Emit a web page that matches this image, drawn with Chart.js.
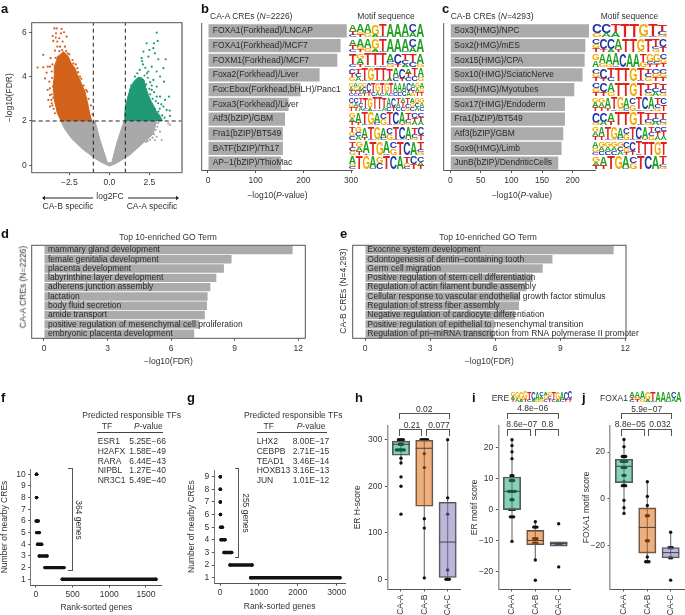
<!DOCTYPE html>
<html lang="en">
<head>
    <meta charset="UTF-8">
    <title>CA-A and CA-B CRE analysis</title>
    <script src="https://cdn.jsdelivr.net/npm/chart.js"></script>
    <style>
        html, body { margin: 0; padding: 0; background: #fff; }
        #page { position: relative; width: 685px; height: 615px; overflow: hidden; font-family: "Liberation Sans", Arial, sans-serif; font-size: 8.5px; color: #333; }
        #page canvas { position: absolute; left: 0; top: 0; }
        .note { position: absolute; white-space: nowrap; line-height: 1; }
        .letter { font-weight: bold; font-size: 13px; color: #111; }
        .brk { position: absolute; box-sizing: border-box; border: 1px solid #555; }
        .rule { position: absolute; height: 1px; background: #444; }
    </style>
</head>
<body>
<div id="page"></div>
<script>
    // panel a: outlines of the dense clouds plus the stray points
    const greyOutX = [-3.02, -2.85, -2.67, -2.35, -2.04, -1.65, -1.31, -0.95, -0.58, -0.25, 0, 0.35, 0.8, 1.29, 1.7, 2.13, 2.5, 2.75, 2.96, 0.92, 0.46, 0.15, -0.12, -0.58, -0.9];
    const greyOutY = [2, 1.72, 1.52, 1.2, 0.99, 0.72, 0.54, 0.34, 0.17, 0.05, -0.03, 0.06, 0.25, 0.47, 0.74, 1.02, 1.24, 1.44, 2, 2, 1, 0.12, 0.12, 1.14, 2];
    const orangeOutX = [-3.02, -3.15, -3.25, -3.33, -3.44, -3.47, -3.5, -3.42, -3.44, -3.3, -3.25, -3.05, -2.88, -2.72, -2.56, -2.4, -2.15, -2.0, -1.88, -1.68, -1.52, -1.42, -1.31, -1.22, -1.1];
    const orangeOutY = [2, 2.2, 2.35, 2.62, 2.95, 3.3, 3.7, 4.1, 4.45, 4.72, 4.9, 5.0, 5.13, 5.02, 4.9, 4.62, 4.38, 4.1, 3.92, 3.58, 3.32, 3.0, 2.65, 2.32, 2];
    const greenOutX = [0.95, 0.97, 1, 1.08, 1.19, 1.3, 1.46, 1.62, 1.81, 2.0, 2.17, 2.28, 2.44, 2.6, 2.79, 2.95, 3.13, 3.33];
    const greenOutY = [2, 2.3, 2.57, 2.85, 3.17, 3.45, 3.7, 3.85, 3.97, 3.95, 3.85, 3.5, 3.17, 2.9, 2.65, 2.4, 2.27, 2];
    const orangeDotX = [-3.44, -3.29, -2.98, -3.33, -3.02, -2.83, -3.54, -3.35, -3.13, -2.67, -3.5, -3.25, -2.92, -3.25, -3.08, -2.77, -3.4, -4.13, -3.67, -4.48, -4.13, -3.85, -3.71, -3.92, -3.6, -4.02, -3.75, -3.71, -3.85, -3.71, -3.81, -3.71, -3.6, -2.0, -1.83, -1.38, -3.55, -3.58, -3.52, -3.6, -3.5, -3.56, -3.62, -3.48, -3.4, -3.36, -2.95, -2.7, -2.5, -2.3, -2.1, -2.25, -1.95, -1.75, -1.6, -1.45, -1.3, -1.15, -1.05, -3.12, -2.6];
    const orangeDotY = [6.17, 6.17, 6.15, 5.95, 5.95, 6.0, 5.83, 5.76, 5.73, 5.8, 5.61, 5.58, 5.58, 5.35, 5.35, 5.35, 5.17, 4.98, 4.83, 4.41, 4.42, 4.45, 4.45, 4.18, 4.23, 3.92, 3.77, 3.47, 3.4, 3.17, 2.95, 2.65, 2.8, 4.38, 4.0, 3.32, 4.55, 3.95, 3.55, 3.2, 3.05, 2.7, 2.95, 2.55, 2.35, 4.85, 5.2, 5.15, 5.0, 4.75, 4.55, 4.6, 4.2, 3.9, 3.6, 3.4, 3.0, 2.7, 2.3, 5.15, 5.05];
    const greenDotX = [2.96, 2.33, 2.79, 3.02, 2.13, 2.5, 2.75, 2.02, 2.44, 2.85, 3.52, 3.06, 3.38, 2.65, 2.96, 2.44, 3.17, 2.75, 3.42, 2.96, 3.17, 3.73, 2.65, 1.29, 3.48, 3.77, 3.79, 3.58, 3.38, 2.96, 3.06, 1.19, 2.1, 2.25, 2.35, 2.2, 2.4, 2.55, 2.3, 2.5, 2.65, 2.8, 2.55, 2.7, 2.9, 3.05, 2.85, 3.0, 3.15, 3.3, 3.45, 3.25, 2.6, 2.75, 1.75, 1.9, 2.05, 1.6, 1.35, 1.05];
    const greenDotY = [5.98, 5.5, 5.5, 5.61, 5.13, 5.2, 5.28, 4.83, 4.9, 5.05, 4.78, 4.78, 4.38, 4.45, 4.23, 4.23, 4.0, 3.85, 3.77, 3.55, 3.1, 3.1, 3.4, 3.4, 2.95, 2.47, 2.23, 2.5, 2.65, 3.1, 2.42, 3.05, 4.55, 4.4, 4.15, 4.05, 3.95, 3.75, 3.65, 3.45, 3.6, 3.3, 3.2, 3.0, 2.9, 2.8, 2.55, 2.3, 2.55, 2.25, 2.15, 2.75, 2.8, 2.45, 4.15, 4.3, 4.7, 4.0, 3.6, 2.75];
    const greyDotX = [3.79, 3.69, 3.27, 2.96, 3.17, 2.85, 3.0, 2.9, 2.8, 2.7, 2.55, 2.4, 3.05, 2.65, 2.3];
    const greyDotY = [1.82, 1.89, 1.14, 1.29, 1.52, 1.14, 1.74, 1.6, 1.4, 1.25, 1.15, 1.1, 1.9, 1.6, 1.05];

    // tick positions
    const aTicksX = [-2.5, 0, 2.5];
    const aTicksY = [0, 2, 4, 6];
    const bTicks = [0, 100, 200, 300];
    const cTicks = [0, 50, 100, 150, 200];
    const goTicks = [0, 3, 6, 9, 12];
    const fTicksX = [0, 500, 1000, 1500];
    const gTicksX = [0, 1000, 2000, 3000];
    const hTicksY = [0, 100, 200, 300];
    const iTicksY = [-20, -10, 0, 10, 20];
    const jTicksY = [-20, 0, 20];

    // panels b and c: motif enrichment
    const bLabels = ['FOXA1(Forkhead)/LNCAP', 'FOXA1(Forkhead)/MCF7', 'FOXM1(Forkhead)/MCF7', 'Foxa2(Forkhead)/Liver', 'Fox:Ebox(Forkhead,bHLH)/Panc1', 'Foxa3(Forkhead)/Liver', 'Atf3(bZIP)/GBM', 'Fra1(bZIP)/BT549', 'BATF(bZIP)/Th17', 'AP\u22121(bZIP)/ThioMac'];
    const bValues = [291, 278, 271, 234, 194, 169, 161.5, 157, 157, 153];
    const cLabels = ['Sox3(HMG)/NPC', 'Sox2(HMG)/mES', 'Sox15(HMG)/CPA', 'Sox10(HMG)/SciaticNerve', 'Sox6(HMG)/Myotubes', 'Sox17(HMG)/Endoderm', 'Fra1(bZIP)/BT549', 'Atf3(bZIP)/GBM', 'Sox9(HMG)/Limb', 'JunB(bZIP)/DendriticCells'];
    const cValues = [226.8, 220.8, 219.7, 216.4, 202.8, 187.5, 187.5, 184.8, 182, 176.6];

    // sequence logos: one string per column, letters top to bottom with height in tenths
    const foxa1Logo = ['A5T3C2', 'A6G2T2', 'A7G3', 'G8A2', 'T9C1', 'A10', 'A10', 'A9C1', 'C6A4', 'A10'];
    const bLogos = [
        foxa1Logo,
        foxa1Logo,
        ['T8C2', 'G4A4T2', 'T9C1', 'T9A1', 'T9C1', 'A6C2G2', 'C8T2', 'T5C3A2', 'T6C4', 'A8G2'],
        ['C4T3G3', 'T4C3A3', 'T9C1', 'G9A1', 'T9C1', 'T9C1', 'T8A2', 'A7C3', 'C8T2', 'A4T3C3', 'T6C4', 'A7G3'],
        ['G3A3T2C2', 'A3G3T2C2', 'G3A3T2C2', 'G3C3A2T2', 'C7T3', 'T7C3', 'G7A3', 'T8C2', 'G7A3', 'T8C2', 'A7C3', 'A7C3', 'A6C4', 'C6A4', 'A3C3T2G2', 'G4A3T3', 'A4G3T3'],
        ['C4G3T3', 'C4A3T3', 'T4C3A3', 'T8C2', 'G8A2', 'T9C1', 'T9C1', 'T7A3', 'A7C3', 'C7T3', 'T4A3C3', 'A3T4C3', 'T5C3G2', 'A4G3C3', 'G4C3A3', 'G4A3C3'],
        ['G4A3T3', 'A8T2', 'T9C1', 'G9A1', 'A8C2', 'C5G5', 'T9C1', 'C9A1', 'A9T1', 'T5C3G2', 'C4T3A3', 'C3T4A3'],
        ['T4G3C3', 'G4C3A3', 'A8T2', 'T9C1', 'G9A1', 'A8C2', 'C5G5', 'T9C1', 'C9A1', 'A9T1', 'T5C3G2', 'C6T4'],
        ['T4C3G3', 'G4A3T3', 'A9T1', 'T10', 'G10', 'A9C1', 'C5G5', 'T10', 'C10', 'A10', 'T6C2G2'],
        ['A6G2C2', 'T10', 'G10', 'A9C1', 'G5C5', 'T10', 'C10', 'A10', 'T5G3C2', 'C6T4', 'C4A3T3']
    ];
    const cLogos = [
        ['C7G3', 'C7A3', 'T6A4', 'T10', 'T10', 'G9A1', 'T9C1', 'T5C3G2'],
        ['C4G3T3', 'C8T2', 'C8A2', 'A8T2', 'T10', 'T10', 'G9A1', 'T10', 'T6C2G2', 'C6T4'],
        ['G5A5', 'A7G3', 'A8G2', 'A9C1', 'C10', 'A10', 'A10', 'T6G4', 'G6C2T2', 'G6C2T2', 'C4G3T3'],
        ['C4G3T3', 'C8T2', 'T7C3', 'T10', 'T10', 'G10', 'T9C1', 'T4C3G3', 'C4G3T3', 'C4G3T3'],
        ['C4G3T3', 'C7T3', 'A7G3', 'T10', 'T10', 'G10', 'T10', 'T5C3G2', 'T4C3A3', 'T5C3G2'],
        ['G3A4T3', 'G4A3T3', 'A8T2', 'T9C1', 'G9A1', 'A8C2', 'C5G5', 'T9C1', 'C9A1', 'A9T1', 'T5C3G2', 'C5T5'],
        ['C8G2', 'C7A3', 'A7T3', 'T10', 'T10', 'G10', 'T9C1', 'T5C3G2', 'T4C3A3', 'T5C3G2'],
        ['G4A3T3', 'A7T3', 'T9C1', 'G9A1', 'A8C2', 'C5G5', 'T9C1', 'C9A1', 'A9T1', 'T4C3G3', 'C4T3A3', 'C3T4A3'],
        ['A5G3C2', 'G4A3C3', 'G4A3C3', 'G4A3C3', 'G4C3A3', 'C5G3T2', 'C7T3', 'T9C1', 'T10', 'T10', 'G10', 'T10'],
        ['G4A3T3', 'A7T3', 'T10', 'G10', 'A9C1', 'C5G5', 'T10', 'C10', 'A10', 'T6C2G2']
    ];
    const ereLogo = ['G4A3T3', 'G6A4', 'G8A2', 'G7T3', 'T8C2', 'C8A2', 'A8G2', 'C4A3G3', 'A3G4C3', 'G4C3T3', 'T8C2', 'G8A2', 'A8C2', 'C8T2', 'C7T3'];

    // panels d and e: GO terms
    const dLabels = ['mammary gland development', 'female genitalia development', 'placenta development', 'labyrinthine layer development', 'adherens junction assembly', 'lactation', 'body fluid secretion', 'amide transport', 'positive regulation of mesenchymal cell proliferation', 'embryonic placenta development'];
    const dValues = [11.73, 8.85, 8.49, 8.13, 7.85, 7.72, 7.69, 7.59, 7.33, 7.09];
    const eLabels = ['Exocrine system development', 'Odontogenesis of dentin\u2013containing tooth', 'Germ cell migration', 'Positive regulation of stem cell differentiation', 'Regulation of actin filament bundle assembly', 'Cellular response to vascular endothelial growth factor stimulus', 'Regulation of stress fiber assembly', 'Negative regulation of cardiocyte differentiation', 'Positive regulation of epithelial to mesenchymal transition', 'Regulation of pri\u2013miRNA transcription from RNA polymerase II promoter'];
    const eValues = [11.46, 8.64, 8.19, 7.73, 7.44, 7.15, 7.10, 6.92, 5.97, 5.93];

    // panels f and g: rank runs per number of nearby CREs
    const fLevels = [10, 8, 6, 5, 4, 3, 2, 1];
    const fRankFrom = [8, 8, 3, 10, 23, 45, 123, 359];
    const fRankTo = [8, 8, 30, 45, 77, 150, 382, 1636];
    const gLevels = [9, 8, 7, 6, 5, 4, 3, 2, 1];
    const gRankFrom = [8, 8, 8, 10, 17, 26, 103, 257, 788];
    const gRankTo = [8, 8, 8, 10, 60, 129, 300, 823, 3085];
    const fTF = ['ESR1', 'H2AFX', 'RARA', 'NIPBL', 'NR3C1'];
    const fP = ['5.25E\u221266', '1.58E\u221249', '6.44E\u221243', '1.27E\u221240', '5.49E\u221240'];
    const gTF = ['LHX2', 'CEBPB', 'TEAD1', 'HOXB13', 'JUN'];
    const gP = ['8.00E\u221217', '2.71E\u221215', '3.46E\u221214', '3.16E\u221213', '1.01E\u221212'];

    // panels h, i, j: boxes per group
    const groups = ['CA-A', 'CA-B', 'CA-C'];
    const hQ1 = [266.5, 157, 4], hMed = [290, 281.5, 80], hQ3 = [297, 298.7, 165.5], hLow = [250, 2, 0], hHigh = [300, 300, 300];
    const hPtX = [0.89, 0.96, 1.03, 1.1, 0.93, 1, 1.07, 0.8, 0.87, 0.94, 1, 1.07, 1.14, 1, 1, 1, 1, 1, 1.86, 1.93, 2, 2.07, 2.14, 2, 2, 2, 2, 2, 3, 3, 3, 3, 2.93, 3, 3.07];
    const hPtY = [300, 300, 300, 300, 290, 290, 290, 278, 278, 278, 278, 278, 278, 260, 250, 220, 200, 140, 300, 300, 300, 300, 300, 270, 240, 130, 110, 3, 300, 175, 140, 20, 0, 0, 0];
    const iQ1 = [-0.1, -11.4, -11.8], iMed = [5.8, -10, -11], iQ3 = [10.4, -6.75, -10.4], iLow = [-10.3, -16.3, -11.8], iHigh = [22.4, -4, -10.4];
    const iPtX = [1, 1, 1, 1, 0.96, 1.04, 0.93, 1, 1.07, 0.86, 0.93, 1, 1.07, 1.14, 0.96, 1.04, 0.89, 0.96, 1.04, 1.11, 0.93, 1, 1.07, 1, 2, 1.93, 2, 2.07, 1.93, 2, 2.07, 1.93, 2, 2.07, 2, 2, 3, 2.89, 2.96, 3.04, 3.11, 3];
    const iPtY = [22.4, 20.5, 18.5, 16.3, 10.8, 10.8, 9.3, 9.3, 9.3, 5.8, 5.8, 5.8, 5.8, 5.8, 3.1, 3.1, 0, 0, 0, 0, -2.4, -2.4, -2.4, -10.3, -4, -5.7, -5.7, -5.7, -9.4, -9.4, -9.4, -10.9, -10.9, -10.9, -16.3, -22.8, -4.6, -11, -11, -11, -11, -18.5];
    const jQ1 = [6.9, -23.3, -25.4], jMed = [13.9, -12.3, -23.1], jQ3 = [16.9, -3.9, -20.9], jLow = [-6.3, -27, -25.4], jHigh = [25.4, 7.3, -14.4];
    const jPtX = [1, 1, 0.93, 1, 1.07, 0.89, 0.96, 1.04, 1.11, 0.93, 1, 1.07, 0.96, 1.04, 1, 0.93, 1, 1.07, 1, 1, 1, 2, 2, 2, 1.96, 2.04, 1.96, 2.04, 2, 1.93, 2, 2.07, 3, 2.93, 3, 3.07, 2.96, 3.04, 3];
    const jPtY = [25.4, 22.3, 18.1, 18.1, 18.1, 16, 16, 16, 16, 13.4, 13.4, 13.4, 10, 10, 7.3, 5.6, 5.6, 5.6, -0.7, -3.9, -6.3, 7.3, 1, -2.9, -7.3, -7.3, -18, -18, -25, -27, -27, -27, -14.4, -21, -21, -21, -25.3, -25.3, -34.9];

    const boxFill = ['rgba(27,158,119,0.5)', 'rgba(217,95,2,0.5)', 'rgba(117,112,179,0.5)'];
    const logoColors = { A: '#21A121', C: '#2035A8', G: '#F5A800', T: '#E0201A' };
    const page = document.getElementById('page');
    const FS = 8.5;

    Chart.defaults.animation = false;
    Chart.defaults.font.family = '"Liberation Sans", Arial, sans-serif';
    Chart.defaults.font.size = FS;
    Chart.defaults.color = '#333';
    Chart.defaults.plugins.legend.display = false;
    Chart.defaults.plugins.tooltip.enabled = false;

    // every panel is its own page-sized canvas, plot box given in page pixels
    function makeChart(box, config, extraPlugins) {
        const canvas = document.createElement('canvas');
        canvas.width = 685;
        canvas.height = 615;
        page.appendChild(canvas);
        const lh = FS * 1.2;
        const padLeft = box.yTitleX ? box.yTitleX - lh / 2 : 0;
        const xBottom = box.xTitleY ? box.xTitleY + lh / 2 : 615;
        config.options = config.options || {};
        config.options.responsive = false;
        config.options.layout = {
            autoPadding: false,
            padding: { left: padLeft, top: box.t, right: 685 - box.r, bottom: 615 - xBottom }
        };
        config.options.scales.x.afterFit = s => { s.height = xBottom - box.b; };
        config.options.scales.y.afterFit = s => { s.width = box.l - padLeft; };
        config.plugins = extraPlugins || [];
        return new Chart(canvas, config);
    }

    function fixedTicks(values) {
        return s => { s.ticks = values.map(v => ({ value: v })); };
    }

    function axisTitle(text) {
        return { display: !!text, text: text, padding: 0, color: '#333' };
    }

    function minus(v) {
        return String(v).replace('-', '\u2212');
    }

    function note(html, x, y, align, cls) {
        const d = document.createElement('div');
        d.className = 'note ' + (cls || '');
        d.innerHTML = html;
        d.style.left = x + 'px';
        d.style.top = y + 'px';
        const tx = align === 'c' ? '-50%' : '0';
        d.style.transform = 'translate(' + tx + ',-50%)';
        page.appendChild(d);
    }

    function rotNote(text, x, y, deg) {
        const d = document.createElement('div');
        d.className = 'note';
        d.textContent = text;
        d.style.left = x + 'px';
        d.style.top = y + 'px';
        d.style.transform = 'translate(-50%,-50%) rotate(' + deg + 'deg)';
        page.appendChild(d);
    }

    function bracket(x0, x1, y, h, openSide) {
        const d = document.createElement('div');
        d.className = 'brk';
        d.style.left = x0 + 'px';
        d.style.top = y + 'px';
        d.style.width = (x1 - x0) + 'px';
        d.style.height = h + 'px';
        d.style[openSide] = 'none';
        page.appendChild(d);
    }

    // frame round the plot box
    const framePlugin = {
        id: 'frame',
        afterDraw(chart) {
            const a = chart.chartArea, ctx = chart.ctx;
            ctx.save();
            ctx.strokeStyle = '#555';
            ctx.lineWidth = 1;
            ctx.strokeRect(a.left, a.top, a.right - a.left, a.bottom - a.top);
            ctx.restore();
        }
    };

    function drawLogo(ctx, columns, x0, width, yBottom, height) {
        const colW = width / columns.length;
        ctx.save();
        columns.forEach((col, i) => {
            let y = yBottom - height;
            for (const [, ch, tenths] of col.matchAll(/([ACGT])(\d+)/g)) {
                const h = height * Number(tenths) / 10;
                ctx.font = 'bold 40px "Liberation Sans"';
                ctx.fillStyle = logoColors[ch];
                const m = ctx.measureText(ch);
                const mw = m.actualBoundingBoxRight + m.actualBoundingBoxLeft;
                const mh = m.actualBoundingBoxAscent + m.actualBoundingBoxDescent;
                ctx.save();
                ctx.translate(x0 + i * colW, y + h);
                ctx.scale(colW / mw, h / mh);
                ctx.fillText(ch, m.actualBoundingBoxLeft, -m.actualBoundingBoxDescent);
                ctx.restore();
                y += h;
            }
        });
        ctx.restore();
    }

    // logos beside the bars, rows follow the y scale
    function rowLogos(logos, x0, width) {
        return {
            id: 'rowLogos',
            afterDraw(chart) {
                logos.forEach((cols, i) => {
                    const yc = chart.scales.y.getPixelForValue(i);
                    drawLogo(chart.ctx, cols, x0, width, yc + 6.3, 12.6);
                });
            }
        };
    }

    function xyPoints(xs, ys) {
        return xs.map((x, i) => ({ x: x, y: ys[i] }));
    }

    function outline(xs, ys, color) {
        return { showLine: true, fill: 'shape', data: xyPoints(xs, ys), backgroundColor: color, borderColor: color, borderWidth: 1, pointRadius: 0 };
    }

    function dots(xs, ys, color) {
        return { data: xyPoints(xs, ys), backgroundColor: color, borderWidth: 0, pointRadius: 1.1 };
    }

    function dashed(points) {
        return { showLine: true, data: points, borderColor: '#222', borderWidth: 1, borderDash: [4, 3], pointRadius: 0 };
    }

    const xMinA = -4.85, xMaxA = 4.54, yMinA = -0.33, yMaxA = 6.43;
    makeChart({ l: 31.7, t: 22.7, r: 182, b: 172.7, yTitleX: 9.5 }, {
        type: 'scatter',
        data: {
            datasets: [
                dashed([{ x: -1, y: yMinA }, { x: -1, y: yMaxA }]),
                dashed([{ x: 1, y: yMinA }, { x: 1, y: yMaxA }]),
                dashed([{ x: xMinA, y: 2 }, { x: xMaxA, y: 2 }]),
                dots(orangeDotX, orangeDotY, '#D2611A'),
                dots(greenDotX, greenDotY, '#1F9A75'),
                dots(greyDotX, greyDotY, '#A9A9A9'),
                outline(orangeOutX, orangeOutY, '#D2611A'),
                outline(greenOutX, greenOutY, '#1F9A75'),
                outline(greyOutX, greyOutY, '#A9A9A9')
            ]
        },
        options: {
            scales: {
                x: {
                    min: xMinA, max: xMaxA,
                    afterBuildTicks: fixedTicks(aTicksX),
                    grid: { display: true, drawOnChartArea: false, tickLength: 2.5, tickColor: '#555' },
                    border: { display: false },
                    ticks: { padding: 2.5, maxRotation: 0, callback: v => minus(v.toFixed(1)) }
                },
                y: {
                    min: yMinA, max: yMaxA,
                    afterBuildTicks: fixedTicks(aTicksY),
                    grid: { display: true, drawOnChartArea: false, tickLength: 2.5, tickColor: '#555' },
                    border: { display: false },
                    title: axisTitle('\u2212log10(FDR)'),
                    ticks: { padding: 2.5 }
                }
            }
        }
    }, [framePlugin, {
        id: 'arrows',
        afterDraw(chart) {
            const ctx = chart.ctx, a = chart.chartArea;
            ctx.save();
            // right edge of the box is a lighter, wider line in the original
            ctx.strokeStyle = '#999';
            ctx.lineWidth = 1.6;
            ctx.beginPath();
            ctx.moveTo(a.right, a.top);
            ctx.lineTo(a.right, a.bottom);
            ctx.stroke();
            ctx.lineWidth = 1;
            ctx.strokeStyle = '#222';
            ctx.fillStyle = '#222';
            [[93, 45, 42], [128, 176, 179]].forEach(([x0, x1, tip]) => {
                ctx.beginPath();
                ctx.moveTo(x0, 198);
                ctx.lineTo(x1, 198);
                ctx.stroke();
                ctx.beginPath();
                ctx.moveTo(tip, 198);
                ctx.lineTo(x1, 195.8);
                ctx.lineTo(x1, 200.2);
                ctx.closePath();
                ctx.fill();
            });
            ctx.restore();
        }
    }]);

    function barChart(box, labels, values, xOpts, textOffset, plugins, frame) {
        const border = frame ? { display: false } : { color: '#777', width: 1.2 };
        return makeChart(box, {
            type: 'bar',
            data: { labels: labels, datasets: [{ data: values, backgroundColor: '#ABABAB', barPercentage: 0.9, categoryPercentage: 1 }] },
            options: {
                indexAxis: 'y',
                scales: {
                    x: Object.assign({
                        type: 'linear',
                        grid: { display: true, drawOnChartArea: false, tickLength: 2.5, tickColor: '#555' },
                        border: frame ? { display: false } : { color: '#555', width: 1 },
                    }, xOpts),
                    y: {
                        grid: { display: false },
                        border: border,
                        ticks: { mirror: true, padding: textOffset, z: 1, autoSkip: false, color: '#2a2a2a' }
                    }
                }
            }
        }, plugins);
    }

    barChart({ l: 201.7, t: 23.5, r: 353, b: 170.5 }, bLabels, bValues,
        { min: -13.2, max: 304, afterBuildTicks: fixedTicks(bTicks), ticks: { padding: 3, maxRotation: 0 } }, 11, [rowLogos(bLogos, 349, 75)]);
    barChart({ l: 443.3, t: 23.5, r: 595.7, b: 170.5 }, cLabels, cValues,
        { min: -11.4, max: 237.8, afterBuildTicks: fixedTicks(cTicks), ticks: { padding: 3, maxRotation: 0 } }, 11, [rowLogos(cLogos, 592.3, 74.5)]);
    barChart({ l: 31.7, t: 245.3, r: 305.3, b: 338.3, xTitleY: 362 }, dLabels, dValues,
        { min: -0.58, max: 12.33, afterBuildTicks: fixedTicks(goTicks), title: axisTitle('\u2212log10(FDR)'), ticks: { padding: 2.5, maxRotation: 0 } }, 16.3, [framePlugin], true);
    barChart({ l: 352.7, t: 245.3, r: 626, b: 338.3, xTitleY: 361.5 }, eLabels, eValues,
        { min: -0.567, max: 12.03, afterBuildTicks: fixedTicks(goTicks), title: axisTitle('\u2212log10(FDR)'), ticks: { padding: 2.5, maxRotation: 0 } }, 14.6, [framePlugin], true);

    function rankChart(box, levels, from, to, xLimits, yLimits, xTicks) {
        return makeChart(box, {
            type: 'scatter',
            data: {
                datasets: levels.map((lv, i) => ({
                    showLine: true,
                    data: [{ x: from[i], y: lv }, { x: to[i], y: lv }],
                    borderColor: '#111',
                    backgroundColor: '#111',
                    borderWidth: 3.4,
                    borderCapStyle: 'round',
                    pointRadius: 1.7,
                    pointBorderWidth: 0
                }))
            },
            options: {
                scales: {
                    x: {
                        min: xLimits[0], max: xLimits[1],
                        afterBuildTicks: fixedTicks(xTicks),
                        grid: { display: true, drawOnChartArea: false, tickLength: 2.5, tickColor: '#555' },
                        border: { color: '#555', width: 1 },
                        title: axisTitle('Rank-sorted genes'),
                        ticks: { padding: 2, maxRotation: 0, callback: v => String(v) }
                    },
                    y: {
                        min: yLimits[0], max: yLimits[1],
                        grid: { display: true, drawOnChartArea: false, tickLength: 2.5, tickColor: '#555' },
                        border: { color: '#777', width: 1 },
                        title: axisTitle('Number of nearby CREs'),
                        ticks: { stepSize: 1, includeBounds: false, padding: 2.5, autoSkip: false }
                    }
                }
            }
        });
    }

    rankChart({ l: 30.7, t: 469, r: 162, b: 585, xTitleY: 608, yTitleX: 4.7 }, fLevels, fRankFrom, fRankTo, [-72, 1719], [0.51, 10.45], fTicksX);
    rankChart({ l: 214.3, t: 470, r: 345, b: 583.3, xTitleY: 606.5, yTitleX: 191.7 }, gLevels, gRankFrom, gRankTo, [-147, 3213], [0.556, 9.53], gTicksX);

    function boxChart(box, xLimits, yLimits, yTicks, q1, med, q3, low, high, ptX, ptY, yTitle) {
        const whiskers = groups.map((g, i) => ({
            showLine: true,
            data: [{ x: i + 1, y: low[i] }, { x: i + 1, y: high[i] }],
            borderColor: '#777',
            borderWidth: 1.2,
            pointRadius: 0,
            order: 4
        }));
        return makeChart(box, {
            type: 'scatter',
            data: {
                datasets: [
                    {
                        type: 'scatter',
                        data: groups.map((g, i) => ({ x: i + 1, y: med[i] })),
                        pointStyle: 'line',
                        pointRadius: 8.6,
                        pointBorderWidth: 1,
                        pointBorderColor: '#444',
                        order: 0
                    },
                    {
                        type: 'bar',
                        data: groups.map((g, i) => ({ x: i + 1, y: [q1[i], q3[i]] })),
                        backgroundColor: boxFill,
                        borderColor: '#555',
                        borderWidth: 1,
                        borderSkipped: false,
                        barThickness: 17.3,
                        order: 1
                    },
                    {
                        type: 'scatter',
                        data: xyPoints(ptX, ptY),
                        backgroundColor: '#111',
                        pointRadius: 1.7,
                        pointBorderWidth: 0,
                        order: 2
                    }
                ].concat(whiskers)
            },
            options: {
                scales: {
                    x: {
                        type: 'linear',
                        offset: false,
                        min: xLimits[0], max: xLimits[1],
                        afterBuildTicks: fixedTicks([1, 2, 3]),
                        grid: { display: true, offset: false, drawOnChartArea: false, tickLength: 2.5, tickColor: '#555' },
                        border: { color: '#555', width: 1 },
                        ticks: { padding: 3, autoSkip: false, minRotation: 90, maxRotation: 90, callback: v => groups[v - 1] }
                    },
                    y: {
                        type: 'linear',
                        min: yLimits[0], max: yLimits[1],
                        afterBuildTicks: fixedTicks(yTicks),
                        grid: { display: true, drawOnChartArea: false, tickLength: 2.5, tickColor: '#555' },
                        border: { color: '#999', width: 1.5 },
                        title: axisTitle(yTitle),
                        ticks: { padding: 2.5, callback: v => minus(v) }
                    }
                }
            }
        });
    }

    boxChart({ l: 387.3, t: 425.7, r: 460, b: 589, yTitleX: 357.7 }, [0.413, 3.53], [-20.8, 330], hTicksY, hQ1, hMed, hQ3, hLow, hHigh, hPtX, hPtY, 'ER H-score');
    boxChart({ l: 498.3, t: 425.7, r: 570, b: 589, yTitleX: 475 }, [0.413, 3.486], [-25.6, 26.9], iTicksY, iQ1, iMed, iQ3, iLow, iHigh, iPtX, iPtY, 'ER motif score');
    boxChart({ l: 610, t: 425.7, r: 685, b: 589, yTitleX: 586.7 }, [0.4, 3.615], [-38.7, 31.3], jTicksY, jQ1, jMed, jQ3, jLow, jHigh, jPtX, jPtY, 'FOXA1 motif score');

    // small logos in the titles of i and j, on a canvas of their own
    const logoCanvas = document.createElement('canvas');
    logoCanvas.width = 685;
    logoCanvas.height = 615;
    page.appendChild(logoCanvas);
    drawLogo(logoCanvas.getContext('2d'), ereLogo, 511, 61, 402, 10);
    drawLogo(logoCanvas.getContext('2d'), foxa1Logo, 629.5, 52, 402, 10);

    // panel letters
    [['a', 1, 8], ['b', 201, 8], ['c', 442, 8], ['d', 1, 233], ['e', 340, 233], ['f', 1, 397], ['g', 187, 397], ['h', 355, 397], ['i', 472, 397], ['j', 582, 397]]
        .forEach(([t, x, y]) => note(t, x, y, 'l', 'letter'));

    // headers and loose annotations
    note('log2FC', 110, 196, 'c');
    note('CA-B specific', 68, 206, 'c');
    note('CA-A specific', 152, 206, 'c');
    note('CA-A CREs (<i>N</i>=2226)', 210, 16, 'l');
    note('Motif sequence', 386, 16, 'c');
    note('\u2212log10(<i>P</i>-value)', 277.5, 195.3, 'c');
    note('CA-B CREs (<i>N</i>=4293)', 450.7, 16, 'l');
    note('Motif sequence', 629.5, 16, 'c');
    note('\u2212log10(<i>P</i>-value)', 522, 195.3, 'c');
    note('Top 10-enriched GO Term', 168, 236.7, 'c');
    note('Top 10-enriched GO Term', 488, 236.7, 'c');
    rotNote('CA-A CREs (N=2226)', 22.5, 286.5, -90);
    rotNote('CA-B CREs (N=4,293)', 342.5, 290.5, -90);

    // tables of predicted TFs
    function tfTable(titleX, headTfX, headPX, ruleX0, ruleX1, tfX, pX, tfs, ps) {
        note('Predicted responsible TFs', titleX, 415, 'l');
        note('TF', headTfX, 426, 'c');
        note('<i>P</i>-value', headPX, 426, 'l');
        const r = document.createElement('div');
        r.className = 'rule';
        r.style.left = ruleX0 + 'px';
        r.style.width = (ruleX1 - ruleX0) + 'px';
        r.style.top = '432px';
        page.appendChild(r);
        tfs.forEach((tf, i) => {
            note(tf, tfX, 440.7 + i * 9.9, 'l');
            note(ps[i], pX, 440.7 + i * 9.9, 'l');
        });
    }
    tfTable(82.3, 107, 134, 97.3, 162.7, 97.7, 129.3, fTF, fP);
    tfTable(244, 268.7, 296.7, 256.7, 327.3, 256.7, 292.7, gTF, gP);

    // brackets in f and g
    bracket(68, 73, 467.7, 103.3, 'borderLeft');
    rotNote('364 genes', 79.3, 520, 90);
    bracket(235, 239, 468.3, 90, 'borderLeft');
    rotNote('255 genes', 246, 513.3, 90);

    // significance brackets in h, i, j
    bracket(399.3, 450, 413.3, 6, 'borderBottom');
    note('0.02', 424.3, 409, 'c');
    bracket(399.3, 421.7, 429, 6.5, 'borderBottom');
    note('0.21', 412, 425, 'c');
    bracket(426, 450, 429, 6.5, 'borderBottom');
    note('0.077', 439, 425, 'c');

    bracket(507.3, 558.7, 413.3, 6, 'borderBottom');
    note('4.8e\u221206', 532.7, 407.7, 'c');
    bracket(507.3, 531.3, 429.3, 6.5, 'borderBottom');
    note('8.6e\u221207', 521.7, 424, 'c');
    bracket(534.7, 558.7, 429.3, 6.5, 'borderBottom');
    note('0.8', 547.3, 424, 'c');

    bracket(620.7, 671.7, 413.3, 6, 'borderBottom');
    note('5.9e\u221207', 646.7, 409, 'c');
    bracket(620.7, 644.7, 429.3, 6.5, 'borderBottom');
    note('8.8e\u221205', 630.3, 424.3, 'c');
    bracket(648, 671.7, 429.3, 6.5, 'borderBottom');
    note('0.032', 660, 424.3, 'c');

    note('ERE', 491.7, 397.5, 'l');
    note('FOXA1', 600, 397.5, 'l');
</script>
</body>
</html>
